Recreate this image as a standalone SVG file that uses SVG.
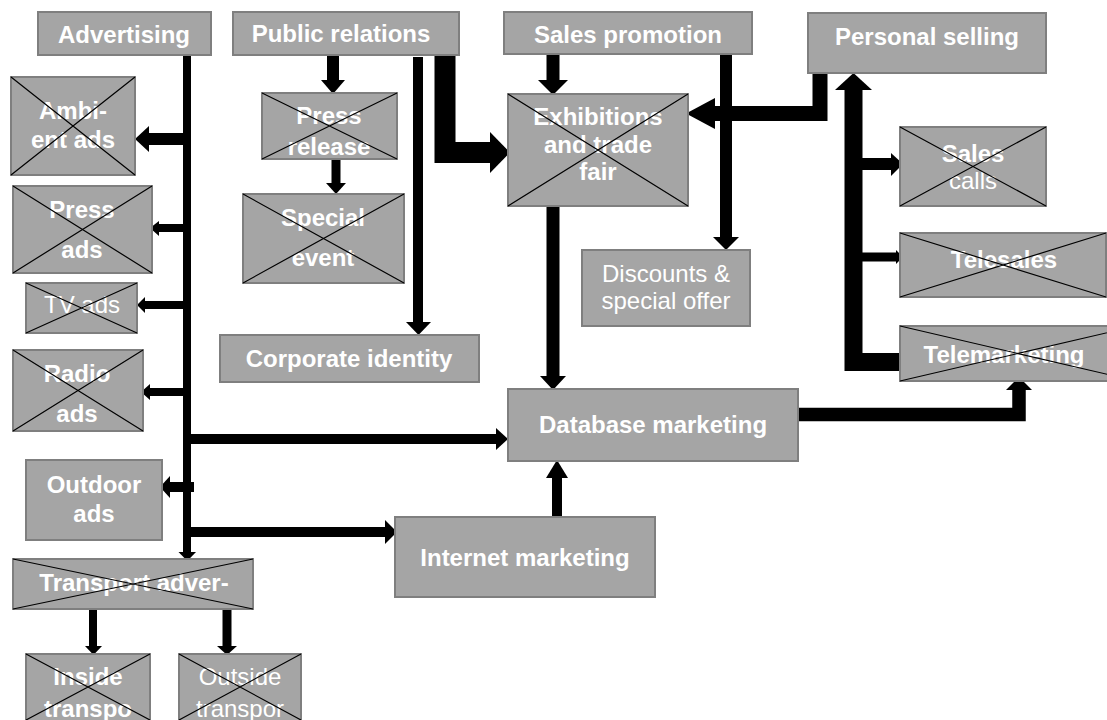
<svg xmlns="http://www.w3.org/2000/svg" width="1107" height="720" viewBox="0 0 1107 720">
<style>
.box{fill:#a5a5a5;stroke:#7f7f7f;stroke-width:2}
.x{stroke:#000;stroke-width:1.2;fill:none}
.t{font-family:"Liberation Sans",Arial,sans-serif;font-size:24px;font-weight:bold;fill:#fff;text-anchor:middle}
.r{font-weight:normal}
.c{stroke:#000;fill:none;stroke-linejoin:miter;stroke-linecap:butt}
.h{fill:#000}
</style>
<rect width="1107" height="720" fill="#fff"/>
<g id="connectors">
<!-- advertising trunk -->
<line class="c" x1="187" y1="55" x2="187" y2="552" stroke-width="8"/>
<polygon class="h" points="178.5,552 196,552 187.3,561"/>
<line class="c" x1="187" y1="139" x2="148" y2="139" stroke-width="12"/>
<polygon class="h" points="149,126 149,152 135,139"/>
<line class="c" x1="187" y1="228" x2="158" y2="228" stroke-width="8"/>
<polygon class="h" points="159,221 159,236 150,228"/>
<line class="c" x1="187" y1="305" x2="144" y2="305" stroke-width="8"/>
<polygon class="h" points="145,297 145,313 137,305"/>
<line class="c" x1="187" y1="392" x2="149" y2="392" stroke-width="8"/>
<polygon class="h" points="150,384 150,400 141,392"/>
<line class="c" x1="187" y1="439" x2="497" y2="439" stroke-width="10"/>
<polygon class="h" points="496,428 496,450 508,439"/>
<line class="c" x1="187" y1="532" x2="386" y2="532" stroke-width="10"/>
<polygon class="h" points="385,520 385,544 397,532"/>
<line class="c" x1="194" y1="487" x2="169" y2="487" stroke-width="10"/>
<polygon class="h" points="170,476 170,498 160,487"/>
<line class="c" x1="93" y1="609" x2="93" y2="647" stroke-width="8"/>
<polygon class="h" points="85,646 102,646 93.5,655"/>
<line class="c" x1="227" y1="609" x2="227" y2="647" stroke-width="9"/>
<polygon class="h" points="217,646 237,646 227,655"/>
<!-- public relations -->
<line class="c" x1="333" y1="55" x2="333" y2="81" stroke-width="12"/>
<polygon class="h" points="321,80 345,80 333,94"/>
<line class="c" x1="336" y1="159" x2="336" y2="184" stroke-width="9"/>
<polygon class="h" points="326,183 346,183 336,194"/>
<line class="c" x1="418" y1="57" x2="418" y2="323" stroke-width="10"/>
<polygon class="h" points="406,322 431,322 418.5,335"/>
<path class="c" d="M445,55 V152.5 H491" stroke-width="21"/>
<polygon class="h" points="490,132 490,173 510,152.5"/>
<!-- sales promotion -->
<line class="c" x1="553" y1="54" x2="553" y2="81" stroke-width="13"/>
<polygon class="h" points="538,80 568,80 553,95"/>
<line class="c" x1="726" y1="54" x2="726" y2="238" stroke-width="12"/>
<polygon class="h" points="713,237 739,237 726,250"/>
<!-- personal selling -->
<path class="c" d="M820,73 V113.5 H714" stroke-width="15"/>
<polygon class="h" points="715,98 715,129 686,113.5"/>
<path class="c" d="M900,362 H853.5 V89" stroke-width="18"/>
<polygon class="h" points="835,90 872,90 853.5,73"/>
<line class="c" x1="853" y1="164" x2="892" y2="164" stroke-width="12"/>
<polygon class="h" points="891,153 891,176 903,164"/>
<line class="c" x1="853" y1="257" x2="897" y2="257" stroke-width="9"/>
<polygon class="h" points="896,250 896,264 903,257"/>
<!-- database / exhibitions / internet -->
<path class="c" d="M798,414.5 H1019 V389" stroke-width="13.5"/>
<polygon class="h" points="1006,390 1032,390 1019,377"/>
<line class="c" x1="553" y1="206" x2="553" y2="377" stroke-width="13"/>
<polygon class="h" points="540,376 566,376 553,390"/>
<line class="c" x1="557" y1="517" x2="557" y2="477" stroke-width="10"/>
<polygon class="h" points="546,478 568,478 557,460"/>
</g>
<g id="advertising"><rect class="box" x="38" y="12" width="173" height="43"/><text class="t" x="124" y="43">Advertising</text></g>
<g id="public-relations"><rect class="box" x="233" y="12" width="226" height="43"/><text class="t" x="341" y="42">Public relations</text></g>
<g id="sales-promotion"><rect class="box" x="504" y="12" width="248" height="42"/><text class="t" x="628" y="43">Sales promotion</text></g>
<g id="personal-selling"><rect class="box" x="808" y="13" width="238" height="60"/><text class="t" x="927" y="45">Personal selling</text></g>
<g id="ambient-ads"><rect class="box" x="11" y="77" width="124" height="98"/><text class="t" x="73" y="119">Ambi-</text><text class="t" x="73" y="148">ent ads</text><path class="x" d="M11,77 L135,175 M135,77 L11,175"/></g>
<g id="press-release"><rect class="box" x="262" y="93" width="135" height="66"/><text class="t" x="329" y="124">Press</text><text class="t" x="329" y="155">release</text><path class="x" d="M262,93 L397,159 M397,93 L262,159"/></g>
<g id="special-event"><rect class="box" x="243" y="194" width="161" height="89"/><text class="t" x="323" y="226">Special</text><text class="t" x="323" y="266">event</text><path class="x" d="M243,194 L404,283 M404,194 L243,283"/></g>
<g id="exhibitions"><rect class="box" x="508" y="94" width="180" height="112"/><text class="t" x="598" y="125">Exhibitions</text><text class="t" x="598" y="153">and trade</text><text class="t" x="598" y="180">fair</text><path class="x" d="M508,94 L688,206 M688,94 L508,206"/></g>
<g id="sales-calls"><rect class="box" x="900" y="127" width="146" height="79"/><text class="t" x="973" y="162">Sales</text><text class="t r" x="973" y="189">calls</text><path class="x" d="M900,127 L1046,206 M1046,127 L900,206"/></g>
<g id="press-ads"><rect class="box" x="13" y="186" width="139" height="87"/><text class="t" x="82" y="218">Press</text><text class="t" x="82" y="258">ads</text><path class="x" d="M13,186 L152,273 M152,186 L13,273"/></g>
<g id="tv-ads"><rect class="box" x="26" y="283" width="111" height="50"/><text class="t r" x="82" y="313">TV ads</text><path class="x" d="M26,283 L137,333 M137,283 L26,333"/></g>
<g id="radio-ads"><rect class="box" x="13" y="350" width="130" height="81"/><text class="t" x="77" y="382">Radio</text><text class="t" x="77" y="422">ads</text><path class="x" d="M13,350 L143,431 M143,350 L13,431"/></g>
<g id="corporate-identity"><rect class="box" x="220" y="335" width="259" height="47"/><text class="t" x="349" y="367">Corporate identity</text></g>
<g id="discounts"><rect class="box" x="582" y="250" width="168" height="76"/><text class="t r" x="666" y="282">Discounts &amp;</text><text class="t r" x="666" y="309">special offer</text></g>
<g id="telesales"><rect class="box" x="900" y="233" width="206" height="64"/><text class="t" x="1004" y="268">Telesales</text><path class="x" d="M900,233 L1106,297 M1106,233 L900,297"/></g>
<g id="telemarketing"><rect class="box" x="900" y="326" width="236" height="55"/><text class="t" x="1004" y="363">Telemarketing</text><path class="x" d="M900,326 L1136,381 M1136,326 L900,381"/></g>
<g id="database-marketing"><rect class="box" x="508" y="389" width="290" height="72"/><text class="t" x="653" y="433">Database marketing</text></g>
<g id="internet-marketing"><rect class="box" x="395" y="517" width="260" height="80"/><text class="t" x="525" y="566">Internet marketing</text></g>
<g id="outdoor-ads"><rect class="box" x="26" y="460" width="136" height="80"/><text class="t" x="94" y="493">Outdoor</text><text class="t" x="94" y="522">ads</text></g>
<g id="transport"><rect class="box" x="13" y="559" width="240" height="50"/><text class="t" x="134" y="591">Transport adver-</text><path class="x" d="M13,559 L253,609 M253,559 L13,609"/></g>
<g id="inside-transport"><rect class="box" x="26" y="654" width="124" height="68"/><text class="t" x="88" y="685">Inside</text><text class="t" x="88" y="717">transpo</text><path class="x" d="M26,654 L150,720 M150,654 L26,720"/></g>
<g id="outside-transport"><rect class="box" x="179" y="654" width="122" height="68"/><text class="t r" x="240" y="685">Outside</text><text class="t r" x="240" y="717">transpor</text><path class="x" d="M179,654 L301,720 M301,654 L179,720"/></g>
</svg>
